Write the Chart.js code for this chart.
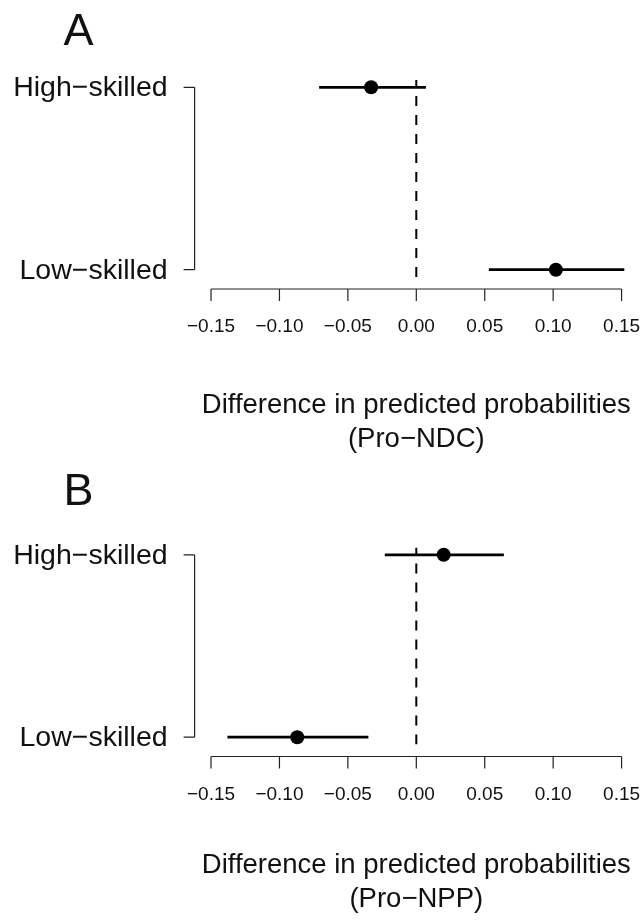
<!DOCTYPE html>
<html>
<head>
<meta charset="utf-8">
<script src="https://cdn.jsdelivr.net/npm/chart.js@4"></script>
<style>
  html, body { margin: 0; padding: 0; background: #fff; }
  #wrap { position: relative; width: 641px; height: 920px; }
  canvas { position: absolute; left: 0; }
</style>
</head>
<body>
<div id="wrap">
  <canvas id="panel-a" width="641" height="460" style="top:0"></canvas>
  <canvas id="panel-b" width="641" height="460" style="top:460px"></canvas>
</div>
<script>
// Data
const rowLabels = ['Low\u2212skilled', 'High\u2212skilled'];
const rowPos = [1, 2];
const xTicks = [-0.15, -0.10, -0.05, 0, 0.05, 0.10, 0.15];

// Panel A (Pro-NDC)
const ndcEst = [0.102, -0.033];
const ndcLow = [0.053, -0.071];
const ndcHigh = [0.152, 0.007];

// Panel B (Pro-NPP)
const nppEst = [-0.087, 0.020];
const nppLow = [-0.138, -0.023];
const nppHigh = [-0.035, 0.064];

const FONT = '"Liberation Sans", Arial, Helvetica, sans-serif';

// R-style axes, labels and panel letter
const rAxes = {
    id: 'rAxes',
    afterDraw(chart, args, opts) {
        const ctx = chart.ctx;
        const xs = chart.scales.x;
        const ys = chart.scales.y;
        const area = chart.chartArea;
        ctx.save();
        ctx.strokeStyle = '#222';
        ctx.lineWidth = 1.2;

        // x axis, drawn below the plot region
        const ay = opts.axisY;
        ctx.beginPath();
        ctx.moveTo(xs.getPixelForValue(xTicks[0]), ay);
        ctx.lineTo(xs.getPixelForValue(xTicks[xTicks.length - 1]), ay);
        xTicks.forEach(t => {
            const px = xs.getPixelForValue(t);
            ctx.moveTo(px, ay);
            ctx.lineTo(px, ay + 12);
        });
        ctx.stroke();

        ctx.fillStyle = '#111';
        ctx.font = '19px ' + FONT;
        ctx.textAlign = 'center';
        ctx.textBaseline = 'alphabetic';
        xTicks.forEach(t => {
            const txt = (t < 0 ? '\u2212' : '') + Math.abs(t).toFixed(2);
            ctx.fillText(txt, xs.getPixelForValue(t), ay + 43);
        });

        // y axis at the left edge of the plot region
        const lx = area.left;
        ctx.beginPath();
        ctx.moveTo(lx, ys.getPixelForValue(rowPos[0]));
        ctx.lineTo(lx, ys.getPixelForValue(rowPos[rowPos.length - 1]));
        rowPos.forEach(p => {
            const py = ys.getPixelForValue(p);
            ctx.moveTo(lx, py);
            ctx.lineTo(lx - 11, py);
        });
        ctx.stroke();

        ctx.font = '28.5px ' + FONT;
        ctx.textAlign = 'right';
        rowPos.forEach((p, i) => {
            ctx.fillText(rowLabels[i], lx - 27, ys.getPixelForValue(p) + 9);
        });

        // x title
        const cx = (area.left + area.right) / 2;
        ctx.font = '27.5px ' + FONT;
        ctx.textAlign = 'center';
        ctx.fillText(opts.title[0], cx, 413);
        ctx.fillText(opts.title[1], cx, 447);

        // panel letter
        ctx.font = '45px ' + FONT;
        ctx.fillText(opts.letter, 78.5, 45);
        ctx.restore();
    }
};

function makePanel(id, est, low, high, letter, title, shift) {
    const yMin = 0.96, yMax = 2.04;
    const datasets = [{
        // reference line at zero
        data: [{ x: 0, y: yMin }, { x: 0, y: yMax }],
        showLine: true,
        borderColor: '#000',
        borderWidth: 2,
        borderDash: [10, 9],
        pointRadius: 0
    }];
    rowPos.forEach((p, i) => {
        datasets.push({
            data: [{ x: low[i], y: p }, { x: high[i], y: p }],
            showLine: true,
            borderColor: '#000',
            borderWidth: 2.7,
            pointRadius: 0,
            clip: false
        });
    });
    datasets.push({
        data: est.map((v, i) => ({ x: v, y: rowPos[i] })),
        backgroundColor: '#000',
        borderWidth: 0,
        pointRadius: 7,
        clip: false
    });

    new Chart(document.getElementById(id).getContext('2d'), {
        type: 'scatter',
        data: { datasets: datasets },
        options: {
            responsive: false,
            animation: false,
            events: [],
            layout: {
                autoPadding: false,
                padding: { left: 194.6, right: 3, top: 80 + shift, bottom: 183 - shift }
            },
            scales: {
                x: { display: false, min: -0.162, max: 0.162 },
                y: { display: false, min: yMin, max: yMax }
            },
            plugins: {
                legend: { display: false },
                tooltip: { enabled: false },
                rAxes: { axisY: 289 + shift, letter: letter, title: title }
            }
        },
        plugins: [rAxes]
    });
}

makePanel('panel-a', ndcEst, ndcLow, ndcHigh, 'A',
    ['Difference in predicted probabilities', '(Pro\u2212NDC)'], 0);
makePanel('panel-b', nppEst, nppLow, nppHigh, 'B',
    ['Difference in predicted probabilities', '(Pro\u2212NPP)'], 7.5);
</script>
</body>
</html>
